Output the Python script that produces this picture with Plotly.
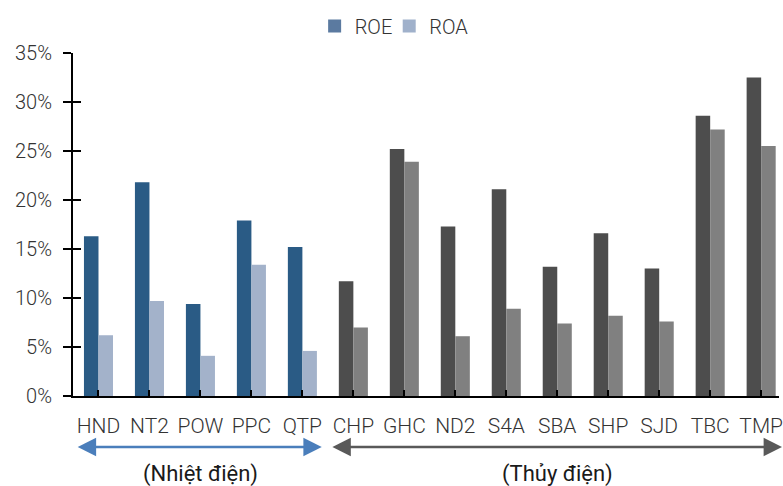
import plotly.graph_objects as go

categories = ["HND", "NT2", "POW", "PPC", "QTP", "CHP", "GHC", "ND2", "S4A", "SBA", "SHP", "SJD", "TBC", "TMP"]
groups = ["Nhiệt điện"] * 5 + ["Thủy điện"] * 9
roe = [16.3, 21.8, 9.4, 17.9, 15.2, 11.7, 25.2, 17.3, 21.1, 13.2, 16.6, 13.0, 28.6, 32.5]
roa = [6.2, 9.7, 4.1, 13.4, 4.6, 7.0, 23.9, 6.1, 8.9, 7.4, 8.2, 7.6, 27.2, 25.5]
group_names = ["Nhiệt điện", "Thủy điện"]
group_labels = ["(Nhiệt điện)", "(Thủy điện)"]
y_ticks = [0, 5, 10, 15, 20, 25, 30, 35]

ROE_COL = {"Nhiệt điện": "#2A5B85", "Thủy điện": "#4D4D4D"}
ROA_COL = {"Nhiệt điện": "#A3B2CA", "Thủy điện": "#808080"}
FONT = "Roboto"
TXT = "#333333"
FS = 20

W, H = 783, 486
ML, MR, MT, MB = 73, 0, 53, 90
X_RANGE = [-0.5, 13.35]
plot_w = W - ML - MR
plot_h = H - MT - MB
px_per_cat = plot_w / (X_RANGE[1] - X_RANGE[0])


def xpaper(v):
    return (v - X_RANGE[0]) / (X_RANGE[1] - X_RANGE[0])


x_idx = list(range(len(categories)))

fig = go.Figure()
fig.add_trace(go.Bar(x=x_idx, y=roe, name="ROE", showlegend=False,
                     marker=dict(color=[ROE_COL[g] for g in groups], line_width=0)))
fig.add_trace(go.Bar(x=x_idx, y=roa, name="ROA", showlegend=False,
                     marker=dict(color=[ROA_COL[g] for g in groups], line_width=0)))
# legend entries
fig.add_trace(go.Scatter(x=[None], y=[None], mode="markers", name="ROE", legend="legend",
                         marker=dict(symbol="square", size=13, color="#5B7AA0")))
fig.add_trace(go.Scatter(x=[None], y=[None], mode="markers", name="ROA", legend="legend2",
                         marker=dict(symbol="square", size=13, color="#A0B1CB")))
# overlay axis for crossing ticks
fig.add_trace(go.Scatter(x=[None], y=[None], yaxis="y2", showlegend=False))

annotations = []
arrow_y = -(447 - (MT + plot_h)) / plot_h
label_y = -(474 - (MT + plot_h)) / plot_h
arrow_col = {"Nhiệt điện": "#4A7EBB", "Thủy điện": "#595959"}
arrow_pad = {"Nhiệt điện": (0.09, -0.12), "Thủy điện": (0.11, 0.1)}
for gname, glabel in zip(group_names, group_labels):
    idxs = [i for i, g in enumerate(groups) if g == gname]
    lo, hi = min(idxs), max(idxs)
    start = lo - 0.5 + arrow_pad[gname][0]
    end = hi + 0.5 + arrow_pad[gname][1]
    annotations.append(dict(x=xpaper(end), y=arrow_y, xref="paper", yref="paper",
                            ax=-(end - start) * px_per_cat, ay=0, axref="pixel", ayref="pixel",
                            text="", showarrow=True,
                            arrowhead=2, startarrowhead=2, arrowside="end+start",
                            arrowsize=1.6, startarrowsize=1.6, arrowwidth=2.3,
                            arrowcolor=arrow_col[gname]))
    annotations.append(dict(x=xpaper((lo + hi) / 2), y=label_y, xref="paper", yref="paper",
                            text=glabel, showarrow=False,
                            font=dict(family=FONT, size=22, color="#1A1A1A", weight=400),
                            yanchor="middle", xanchor="center"))

leg_font = dict(family=FONT, size=FS, color=TXT, weight=300)
fig.update_layout(
    width=W, height=H,
    margin=dict(l=ML, r=MR, t=MT, b=MB),
    paper_bgcolor="white", plot_bgcolor="white",
    barmode="group", bargap=0.43, bargroupgap=0,
    font=dict(family=FONT, size=FS, color=TXT, weight=300),
    showlegend=True,
    legend=dict(orientation="h", x=(316 - ML) / plot_w, y=1 + 27 / plot_h,
                xanchor="left", yanchor="middle", font=leg_font, itemwidth=30,
                bgcolor="rgba(0,0,0,0)"),
    legend2=dict(orientation="h", x=(391 - ML) / plot_w, y=1 + 27 / plot_h,
                 xanchor="left", yanchor="middle", font=leg_font, itemwidth=30,
                 bgcolor="rgba(0,0,0,0)"),
    xaxis=dict(range=X_RANGE, tickmode="array", tickvals=x_idx, ticktext=categories,
               tickson="boundaries", ticks="inside", ticklen=6, tickwidth=2, tickcolor="black",
               showline=True, linecolor="black", linewidth=2, showgrid=False, zeroline=False,
               ticklabelstandoff=10, ticklabeloverflow="allow",
               tickfont=dict(family=FONT, size=21, color=TXT, weight=300)),
    yaxis=dict(range=[0, 35], tickmode="array", tickvals=y_ticks,
               ticktext=[f"{v}%" for v in y_ticks],
               ticks="outside", ticklen=8, tickwidth=2, tickcolor="black",
               showline=True, linecolor="black", linewidth=2, showgrid=False, zeroline=False,
               ticklabelstandoff=7,
               tickfont=dict(family=FONT, size=FS, color=TXT, weight=300)),
    yaxis2=dict(range=[0, 35], overlaying="y", side="left", tickmode="array", tickvals=y_ticks,
                ticks="inside", ticklen=8, tickwidth=2, tickcolor="black",
                showticklabels=False, showline=False, showgrid=False, zeroline=False),
    annotations=annotations,
)

fig.write_html("out.html")
